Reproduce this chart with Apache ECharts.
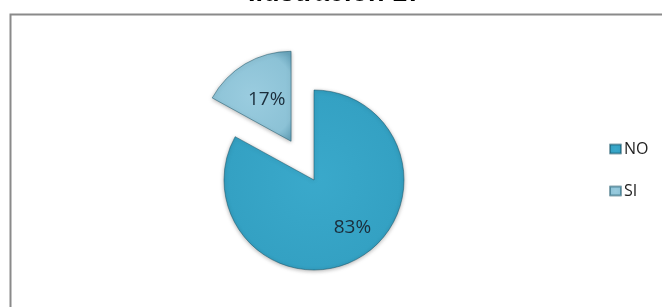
<!DOCTYPE html>
<html>
<head>
<meta charset="utf-8">
<script src="https://cdn.jsdelivr.net/npm/echarts@6/dist/echarts.min.js"></script>
<style>
  html, body { margin: 0; padding: 0; background: #fff; }
  #chart { width: 662px; height: 307px; }
</style>
</head>
<body>
<div id="chart"></div>
<script>
// data
const categories = ['NO', 'SI'];
const values = [83, 17];
const titleText = 'Ilustración 17';

const sliceColors = [
  { type: 'radial', x: 0.5, y: 0.5, r: 0.6, colorStops: [
    { offset: 0, color: '#3aa9cb' }, { offset: 0.8, color: '#34a1c3' }, { offset: 1, color: '#23819f' }] },
  { type: 'radial', x: 0.5, y: 0.5, r: 0.7, colorStops: [
    { offset: 0, color: '#9accdf' }, { offset: 0.8, color: '#8cc2d6' }, { offset: 1, color: '#6aa6bd' }] },
];
const legendColors = ['#2f9cbe', '#8cc2d6'];
const labelOffsets = [[14, 6], [2, -5]];

const chart = echarts.init(document.getElementById('chart'), null, { renderer: 'canvas' });

chart.setOption({
  animation: false,
  color: legendColors,
  title: {
    text: titleText,
    left: 243,
    top: -25,
    textStyle: { fontFamily: 'Liberation Sans', fontWeight: 'bold', fontSize: 27, color: '#000' },
  },
  graphic: [{
    type: 'rect',
    left: 8, top: 12,
    shape: { width: 700, height: 400 },
    style: { fill: 'none', stroke: '#8a8a8a', lineWidth: 2 },
    silent: true,
  }],
  legend: {
    orient: 'vertical',
    left: 604,
    top: 136,
    icon: 'rect',
    itemWidth: 11,
    itemHeight: 9,
    itemGap: 26,
    selectedMode: false,
    textStyle: { fontFamily: 'Open Sans', fontSize: 16, color: '#222', padding: [0, 0, 0, -2] },
    data: categories,
  },
  series: [{
    type: 'pie',
    center: [314, 180],
    radius: 90,
    startAngle: 90,
    clockwise: true,
    selectedMode: 'single',
    selectedOffset: 45,
    label: {
      show: true,
      position: 'inside',
      formatter: '{d}%',
      fontFamily: 'Open Sans',
      fontSize: 19,
      color: '#1b2d3b',
    },
    labelLine: { show: false },
    emphasis: { disabled: true },
    itemStyle: {
      borderColor: 'rgba(20,80,100,0.5)',
      borderWidth: 1,
      shadowBlur: 4,
      shadowColor: 'rgba(0,0,0,0.3)',
      shadowOffsetY: 1,
    },
    data: categories.map((name, i) => ({
      name,
      value: values[i],
      selected: name === 'SI',
      itemStyle: { color: sliceColors[i] },
      label: { offset: labelOffsets[i] },
    })),
  }],
});
</script>
</body>
</html>
